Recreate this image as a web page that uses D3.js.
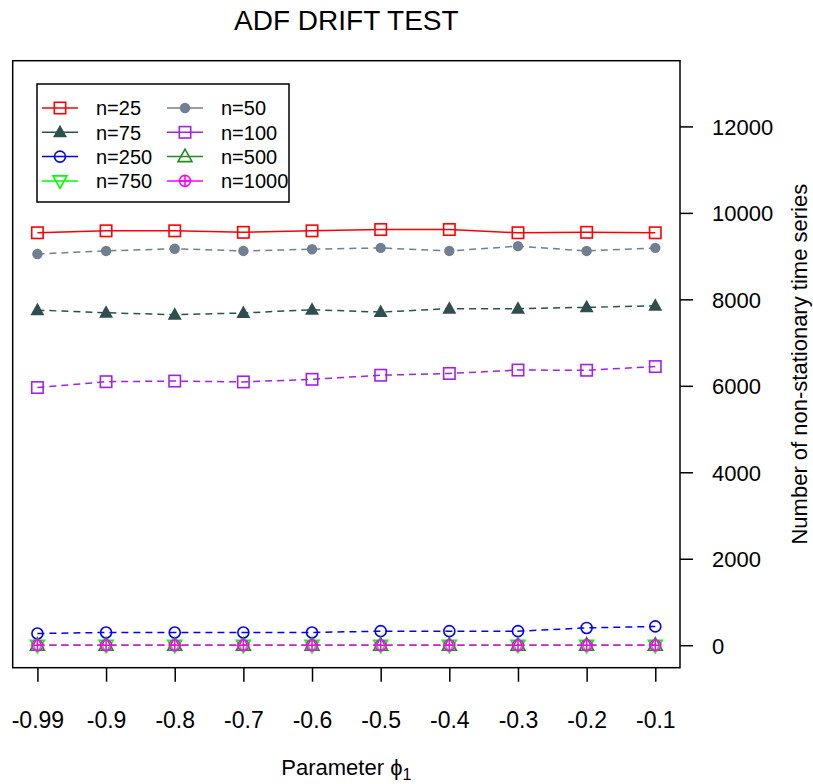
<!DOCTYPE html>
<html>
<head>
<meta charset="utf-8">
<script src="https://cdn.jsdelivr.net/npm/d3@7"></script>
<style>
body { margin: 0; background: #fff; }
svg text { font-family: "Liberation Sans", Arial, Helvetica, sans-serif; fill: #000; }
</style>
</head>
<body>
<svg></svg>
<script>
var WIDTH = 813;
var HEIGHT = 784;

// tick labels for the x axis (phi_1 values)
var phiLabels = ['-0.99', '-0.9', '-0.8', '-0.7', '-0.6', '-0.5', '-0.4', '-0.3', '-0.2', '-0.1'];
var yTicks = [0, 2000, 4000, 6000, 8000, 10000, 12000];

// series values
var n25 = [9540, 9585, 9585, 9550, 9585, 9615, 9615, 9540, 9550, 9540];
var n50 = [9050, 9120, 9170, 9120, 9160, 9190, 9120, 9230, 9120, 9190];
var n75 = [7750, 7690, 7645, 7685, 7760, 7705, 7785, 7785, 7815, 7850];
var n100 = [5960, 6095, 6110, 6090, 6150, 6245, 6285, 6365, 6360, 6445];
var n250 = [270, 295, 295, 295, 295, 325, 325, 325, 400, 435];
var n500 = [0, 0, 0, 0, 0, 0, 0, 0, 0, 0];
var n750 = [0, 0, 0, 0, 0, 0, 0, 0, 0, 0];
var n1000 = [0, 0, 0, 0, 0, 0, 0, 0, 0, 0];

var seriesNames = ['n=25', 'n=50', 'n=75', 'n=100', 'n=250', 'n=500', 'n=750', 'n=1000'];
var seriesValues = [n25, n50, n75, n100, n250, n500, n750, n1000];
var seriesColors = ['#FF0000', '#708090', '#2F4F4F', '#A020F0', '#0000FF', '#228B22', '#00FF00', '#FF00FF'];
var seriesSymbols = ['square', 'dot', 'tri', 'square', 'circle', 'tri-open', 'tri-down', 'circle-plus'];
var seriesDashed = [false, true, true, true, true, true, true, true];

var box = { left: 12.7, right: 680, top: 60.7, bottom: 667.7 };

var svg = d3.select('svg')
	.attr('width', WIDTH)
	.attr('height', HEIGHT);

var xScale = d3.scalePoint()
	.domain(phiLabels)
	.range([box.left, box.right])
	.padding(0.36);

var yScale = d3.scaleLinear()
	.domain([-520, 13520])
	.range([box.bottom, box.top]);

// draws one plotting symbol centred on 0,0
var drawSymbol = function(g, kind, color){
	var s = 5.7;
	if(kind === 'square'){
		g.append('rect').attr('x', -s).attr('y', -s).attr('width', 2 * s).attr('height', 2 * s)
			.attr('fill', 'none').attr('stroke', color).attr('stroke-width', 1.6);
	} else if(kind === 'dot'){
		g.append('circle').attr('r', 5.2).attr('fill', color);
	} else if(kind === 'tri'){
		g.append('path').attr('d', 'M0,-7.5L7,5L-7,5Z').attr('fill', color);
	} else if(kind === 'circle'){
		g.append('circle').attr('r', 5.5).attr('fill', 'none').attr('stroke', color).attr('stroke-width', 1.6);
	} else if(kind === 'tri-open'){
		g.append('path').attr('d', 'M0,-7.5L7,5L-7,5Z')
			.attr('fill', 'none').attr('stroke', color).attr('stroke-width', 1.6);
	} else if(kind === 'tri-down'){
		g.append('path').attr('d', 'M0,7.5L7,-5L-7,-5Z')
			.attr('fill', 'none').attr('stroke', color).attr('stroke-width', 1.6);
	} else if(kind === 'circle-plus'){
		g.append('circle').attr('r', 5.5).attr('fill', 'none').attr('stroke', color).attr('stroke-width', 1.6);
		g.append('path').attr('d', 'M-5.5,0H5.5M0,-5.5V5.5').attr('stroke', color).attr('stroke-width', 1.6);
	}
};

var line = d3.line()
	.x(function(d, i){ return xScale(phiLabels[i]); })
	.y(function(d){ return yScale(d); });

var plot = svg.append('g').attr('id', 'series');
seriesValues.forEach(function(values, k){
	plot.append('path')
		.attr('d', line(values))
		.attr('fill', 'none')
		.attr('stroke', seriesColors[k])
		.attr('stroke-width', 1.5)
		.attr('stroke-dasharray', seriesDashed[k] ? '7,5' : null);
	values.forEach(function(v, i){
		var g = plot.append('g')
			.attr('transform', 'translate(' + xScale(phiLabels[i]) + ',' + yScale(v) + ')');
		drawSymbol(g, seriesSymbols[k], seriesColors[k]);
	});
});

// frame
svg.append('rect')
	.attr('x', box.left).attr('y', box.top)
	.attr('width', box.right - box.left).attr('height', box.bottom - box.top)
	.attr('fill', 'none').attr('stroke', '#000').attr('stroke-width', 1.5);

// x axis
var bottomAxis = d3.axisBottom(xScale).tickSize(14).tickPadding(30);
svg.append('g')
	.attr('id', 'x-axis')
	.attr('transform', 'translate(0,' + box.bottom + ')')
	.call(bottomAxis)
	.call(function(g){
		g.select('.domain').remove();
		g.selectAll('line').attr('stroke-width', 1.5);
		g.selectAll('text').attr('font-size', 23).attr('font-family', null).attr('dy', '0.7em');
	});

// y axis on the right, labels left aligned like R
var rightAxis = d3.axisRight(yScale).tickValues(yTicks).tickSize(13).tickPadding(19).tickFormat(d3.format('d'));
svg.append('g')
	.attr('id', 'y-axis')
	.attr('transform', 'translate(' + box.right + ',0)')
	.call(rightAxis)
	.call(function(g){
		g.select('.domain').remove();
		g.selectAll('line').attr('stroke-width', 1.5);
		g.selectAll('text').attr('font-size', 22).attr('font-family', null).attr('dy', '0.36em');
	});

// titles
svg.append('text')
	.attr('x', (box.left + box.right) / 2).attr('y', 30)
	.attr('text-anchor', 'middle').attr('font-size', 28)
	.text('ADF DRIFT TEST');

var xTitle = svg.append('text')
	.attr('x', (box.left + box.right) / 2).attr('y', 775)
	.attr('text-anchor', 'middle').attr('font-size', 22);
xTitle.append('tspan').text('Parameter  ');
xTitle.append('tspan').text('\u03D5');
xTitle.append('tspan').attr('font-size', 16).attr('dy', 5).text('1');

svg.append('text')
	.attr('transform', 'translate(807,' + (box.top + box.bottom) / 2 + ') rotate(-90)')
	.attr('text-anchor', 'middle').attr('font-size', 22)
	.text('Number of non-stationary time series');

// legend
var legend = svg.append('g').attr('id', 'legend');
legend.append('rect')
	.attr('x', 37).attr('y', 84).attr('width', 252).attr('height', 118)
	.attr('fill', '#fff').attr('stroke', '#000').attr('stroke-width', 1.5);
seriesNames.forEach(function(name, k){
	var col = k % 2;
	var row = Math.floor(k / 2);
	var x0 = col === 0 ? 42 : 167;
	var y0 = 108 + row * 24.3;
	legend.append('line')
		.attr('x1', x0).attr('x2', x0 + 36).attr('y1', y0).attr('y2', y0)
		.attr('stroke', seriesColors[k]).attr('stroke-width', 1.5);
	var g = legend.append('g').attr('transform', 'translate(' + (x0 + 18) + ',' + y0 + ')');
	drawSymbol(g, seriesSymbols[k], seriesColors[k]);
	legend.append('text')
		.attr('x', x0 + 54).attr('y', y0).attr('dy', '0.36em')
		.attr('font-size', 20)
		.text(name);
});
</script>
</body>
</html>
